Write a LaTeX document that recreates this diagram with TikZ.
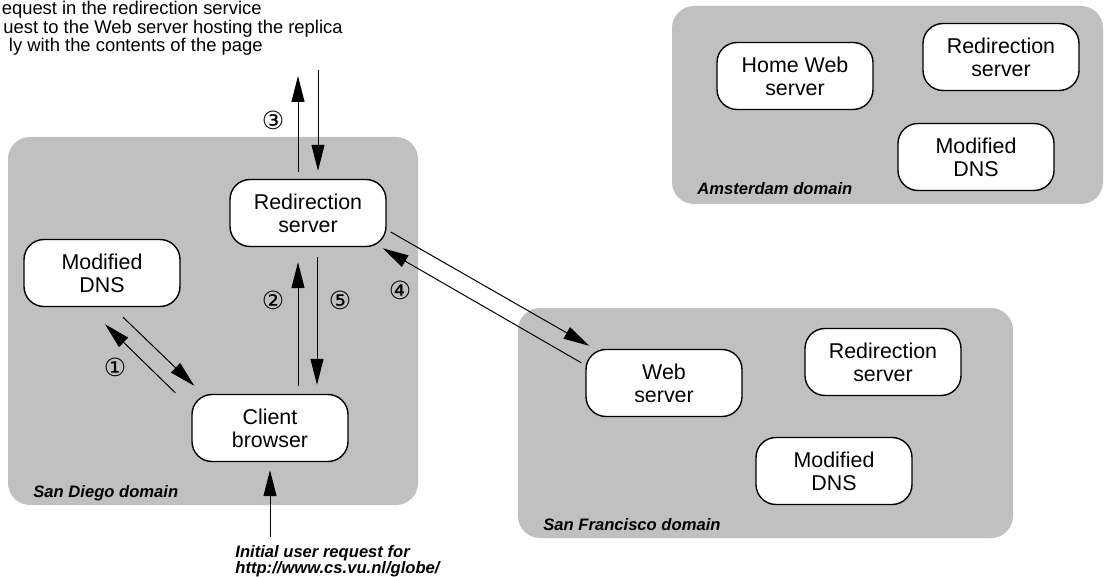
\documentclass[tikz,border=0pt]{standalone}
\usepackage{fontspec}
\setmainfont{Liberation Sans}
\newfontfamily\circfont{DejaVu Sans}
\usepackage{xcolor}
\definecolor{DomainGray}{HTML}{C0C0C0}
\usepackage{tikz}
\usetikzlibrary{arrows.meta, positioning, calc}
\tikzset{
  % Domain and host styles
  domainbg/.style={fill=DomainGray, rounded corners=11pt},
  hostbox/.style={rectangle, rounded corners=10pt, draw=black, line width=0.7pt, fill=white, minimum width=78pt, minimum height=33.5pt, inner sep=1pt, align=center, font=\fontsize{10.7}{11.5}\selectfont},
  domainlabel/.style={anchor=base west, inner sep=0pt, font=\fontsize{8.3}{8.3}\selectfont\bfseries\itshape},
  % Text styles
  steplabel/.style={inner sep=0pt, font=\circfont\fontsize{12.5}{12.5}\selectfont},
  notetext/.style={anchor=base east, inner sep=0pt, font=\fontsize{9.2}{9.2}\selectfont},
  % Arrow style
  msg/.style={-{Triangle[length=13pt,width=6.5pt]}, line width=0.5pt}
}

\begin{document}
\begin{tikzpicture}[x=0.5pt, y=-0.5pt]
  \useasboundingbox (0,0) rectangle (1107,577);

  % Domains
  \fill[domainbg] (8,137) rectangle (418,505);
  \fill[domainbg] (672,6) rectangle (1103,204);
  \fill[domainbg] (518,308) rectangle (1013,538);

  \node[domainlabel] (sdlabel) at (33,497) {San Diego domain};
  \node[domainlabel] (amlabel) at (697,195) {Amsterdam domain};
  \node[domainlabel] (sflabel) at (543,530) {San Francisco domain};

  % Steps text (cut at the left)
  \node[notetext] (note1) at (262,15) {equest in the redirection service};
  \node[notetext] (note2) at (343,34) {uest to the Web server hosting the replica};
  \node[notetext] (note3) at (263,52) {ly with the contents of the page};

  % San Diego hosts
  \node[hostbox] (sdredir) at (308,213) {Redirection\\server};
  \node[hostbox] (sddns) at (102,273) {Modified\\DNS};
  \node[hostbox] (client) at (270,428) {Client\\browser};

  % Amsterdam hosts
  \node[hostbox] (homeweb) at (795,76) {Home Web\\server};
  \node[hostbox] (amredir) at (1001,57) {Redirection\\server};
  \node[hostbox] (amdns) at (976,157) {Modified\\DNS};

  % San Francisco hosts
  \node[hostbox] (sfweb) at (664,383) {Web\\server};
  \node[hostbox] (sfredir) at (883,362) {Redirection\\server};
  \node[hostbox] (sfdns) at (834,471) {Modified\\DNS};

  % Free ends
  \coordinate (out3) at (298,76);
  \coordinate (in3) at (318,70);
  \coordinate (userreq) at (270,537);

  % Step 1
  \draw[msg] ($(sddns.south)+(21,10)$) -- ($(client.north west)+(3,-8)$);
  \draw[msg] ($(client.north west)+(-16,-1)$) -- ($(sddns.south)+(3,17)$);
  % Step 2 and 5
  \draw[msg] ($(client.north)+(28,-8)$) -- ($(sdredir.south)+(-10,15)$);
  \draw[msg] ($(sdredir.south)+(9,10)$) -- ($(client.north)+(47,-9)$);
  % Step 3
  \draw[msg] ($(sdredir.north)+(-10,-7)$) -- (out3);
  \draw[msg] (in3) -- ($(sdredir.north)+(10,-8)$);
  % Step 4
  \draw[msg] ($(sdredir.east)+(4,19)$) -- ($(sfweb.north west)+(4,-3)$);
  \draw[msg] ($(sfweb.north west)+(-4,14)$) -- ($(sdredir.south east)+(-4,1)$);
  % Initial request
  \draw[msg] (userreq) -- ($(client.south)+(0,8)$);

  \node[steplabel] (n1) at (115,367) {①};
  \node[steplabel] (n2) at (273,300) {②};
  \node[steplabel] (n3) at (273,120) {③};
  \node[steplabel] (n4) at (400,290) {④};
  \node[steplabel] (n5) at (340,300) {⑤};

  \node[domainlabel] (req1) at (235,557) {Initial user request for};
  \node[domainlabel] (req2) at (235,573) {http://www.cs.vu.nl/globe/};
\end{tikzpicture}
\end{document}
